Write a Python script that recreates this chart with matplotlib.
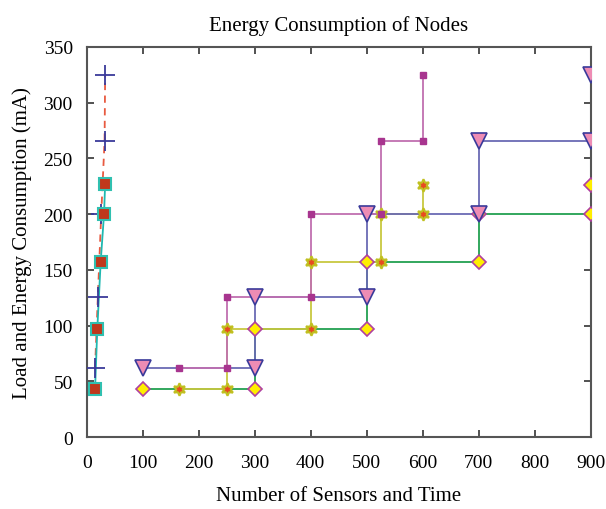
import matplotlib
matplotlib.use("Agg")
import matplotlib.pyplot as plt

plt.rcParams['font.family'] = ['Liberation Serif', 'DejaVu Serif']

# left cluster (number of sensors)
plus_x = [15, 20, 26, 32, 33]
plus_y = [62, 126, 200, 266, 325]
sq_x = [15, 19, 25, 31, 33]
sq_y = [43, 97, 157, 200, 227]

# step series (time)
dia_x = [100, 300, 300, 500, 500, 700, 700, 900, 900]
dia_y = [43, 43, 97, 97, 157, 157, 200, 200, 226]
star_x = [165, 250, 250, 400, 400, 525, 525, 600, 600]
star_y = [43, 43, 97, 97, 157, 157, 200, 200, 226]
tri_x = [100, 300, 300, 500, 500, 700, 700, 900, 900]
tri_y = [62, 62, 126, 126, 200, 200, 266, 266, 325]
pur_x = [165, 250, 250, 400, 400, 525, 525, 600, 600]
pur_y = [62, 62, 126, 126, 200, 200, 266, 266, 325]

fig = plt.figure(figsize=(6.06, 5.10), dpi=100)
ax = fig.add_axes([0.143, 0.141, 0.832, 0.765])

# lines first, markers on top
ax.plot(dia_x, dia_y, color='#22a050', lw=1.3, zorder=2)
ax.plot(star_x, star_y, color='#c8c840', lw=1.3, zorder=2.1)
ax.plot(tri_x, tri_y, color='#6a6ab4', lw=1.3, zorder=2.2)
ax.plot(pur_x, pur_y, color='#c070b0', lw=1.3, zorder=2.3)
ax.plot(plus_x, plus_y, color='#e85a40', lw=1.3, ls=(0, (4, 3)), zorder=2.4)
ax.plot(sq_x, sq_y, color='#20b8b0', lw=1.3, zorder=2.5)

ax.plot(dia_x, dia_y, ls='none', marker='D', ms=7, mfc='#ffee00', mec='#b040a0', mew=1.2, zorder=3)
ax.plot(star_x, star_y, ls='none', marker=(6, 1, 0), ms=9, mfc='#e84a20', mec='#c0c020', mew=1.5, zorder=3.1)
ax.plot(tri_x, tri_y, ls='none', marker='v', ms=11, mfc='#ee8cb4', mec='#3a3a9a', mew=1.2, zorder=3.2)
ax.plot(pur_x, pur_y, ls='none', marker='s', ms=5, mfc='#a8358f', mec='#a8358f', zorder=3.3)
ax.plot(plus_x, plus_y, ls='none', marker='+', ms=15, mec='#3a3a9a', mew=1.3, zorder=3.4)
ax.plot(sq_x, sq_y, ls='none', marker='s', ms=8, mfc='#c0381c', mec='#30c0b0', mew=1.5, zorder=3.5)

ax.set_xlim(0, 900)
ax.set_ylim(0, 350)
ax.set_xticks(range(0, 901, 100))
ax.set_yticks(range(0, 351, 50))
ax.tick_params(direction='in', top=True, right=True, length=5, width=1.2,
               color='#333333', labelsize=14)
ax.tick_params(axis='x', pad=12)
ax.tick_params(axis='y', pad=10)
for s in ax.spines.values():
    s.set_color('#555555')
    s.set_linewidth(1.5)

ax.set_title('Energy Consumption of Nodes', fontsize=15, pad=12)
ax.set_xlabel('Number of Sensors and Time', fontsize=15, labelpad=11)
ax.set_ylabel('Load and Energy Consumption (mA)', fontsize=15, labelpad=8)

fig.savefig('out.png', dpi=100)
